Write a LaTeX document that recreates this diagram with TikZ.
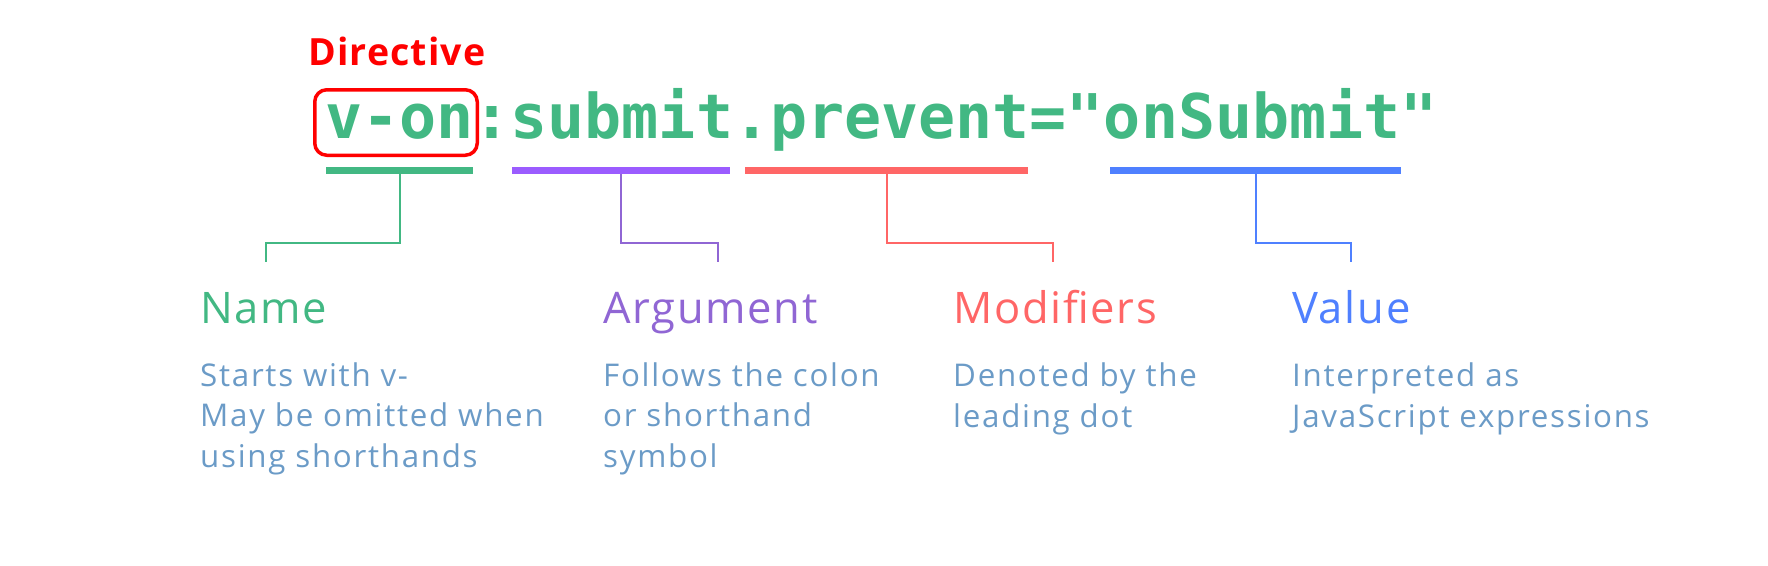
\documentclass[tikz,border=0pt]{standalone}
\usepackage{fontspec}
\setmainfont{Open Sans}
\newfontfamily\codefont{DejaVu Sans Mono}
\newfontfamily\titlefont[LetterSpace=4]{Open Sans}
\newfontfamily\bodyfont[LetterSpace=5.5]{Open Sans}
\newfontfamily\dirfont[LetterSpace=3]{Open Sans}
\definecolor{vgreen}{HTML}{42B883}
\definecolor{vpurple}{HTML}{9B5CFF}
\definecolor{vpurpletext}{HTML}{9066D4}
\definecolor{vred}{HTML}{FF6666}
\definecolor{vblue}{HTML}{4F80FF}
\definecolor{bodytext}{HTML}{6B9BC7}
\definecolor{dirred}{HTML}{FF0000}
\tikzset{
  bar/.style={rectangle, inner sep=0pt, minimum height=7pt, draw=none},
  conn/.style={line width=2pt},
  titletext/.style={anchor=base west, inner sep=0pt, font=\titlefont\fontsize{43.5}{50}\selectfont},
  bodytxt/.style={anchor=base west, inner sep=0pt, align=left, text=bodytext, font=\bodyfont\fontsize{31.3}{40.5}\selectfont},
}
\begin{document}
\begin{tikzpicture}[x=1pt,y=-1pt]
\useasboundingbox (0,0) rectangle (1768,565);
% code line
\node[anchor=base west, inner sep=0pt, text=vgreen, font=\codefont\bfseries\fontsize{61.6}{70}\selectfont] (code) at (325,138) {v-on:submit.prevent="onSubmit"};
% directive box and label
\node[draw=dirred, line width=3.5pt, rounded corners=12pt, minimum width=162.5pt, minimum height=65.5pt, inner sep=0pt] (dirbox) at (396,122.5) {};
\node[anchor=base west, inner sep=0pt, text=dirred, font=\dirfont\bfseries\fontsize{37.5}{42}\selectfont] (dirlabel) at (308,65) {Directive};
% bars
\node[bar, fill=vgreen, minimum width=147pt] (gbar) at (399.5,170.5) {};
\node[bar, fill=vpurple, minimum width=218pt] (pbar) at (621,170.5) {};
\node[bar, fill=vred, minimum width=283pt] (rbar) at (886.5,170.5) {};
\node[bar, fill=vblue, minimum width=291pt] (bbar) at (1255.5,170.5) {};
% connector ends
\coordinate (gend) at (266,262);
\coordinate (pend) at (718,262);
\coordinate (rend) at (1053,262);
\coordinate (bend) at (1351,262);
\draw[conn, vgreen] (gbar.south) -- ++(0,69) -| (gend);
\draw[conn, vpurpletext] (pbar.south) -- ++(0,69) -| (pend);
\draw[conn, vred] (rbar.south) -- ++(0,69) -| (rend);
\draw[conn, vblue] (bbar.south) -- ++(0,69) -| (bend);
% titles
\node[titletext, text=vgreen] (tname) at (200,323) {Name};
\node[titletext, text=vpurpletext] (targ) at (603,323) {Argument};
\node[titletext, text=vred] (tmod) at (953,323) {Modifiers};
\node[titletext, text=vblue] (tval) at (1292,323) {Value};
% descriptions
\node[bodytxt] (dname) at (200,467) {Starts with v-\\May be omitted when\\using shorthands};
\node[bodytxt] (darg) at (603,467) {Follows the colon\\or shorthand\\symbol};
\node[bodytxt] (dmod) at (953,427) {Denoted by the\\leading dot};
\node[bodytxt] (dval) at (1292,427) {Interpreted as\\JavaScript expressions};
\end{tikzpicture}
\end{document}
